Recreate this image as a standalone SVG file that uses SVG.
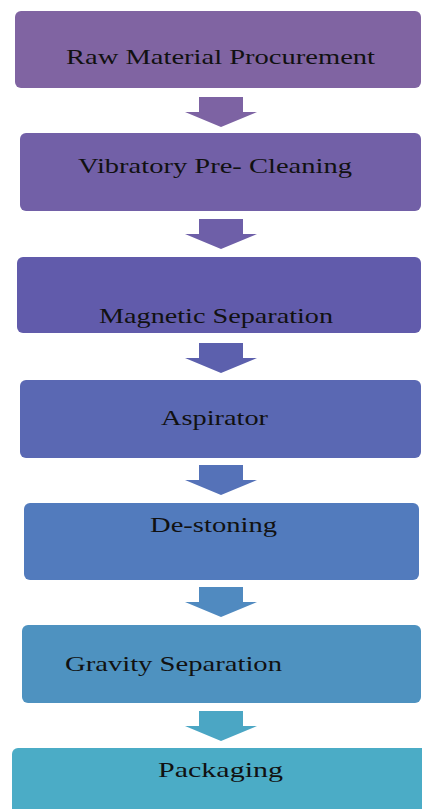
<svg xmlns="http://www.w3.org/2000/svg" width="422" height="809" viewBox="0 0 422 809">
<style>
.box{stroke:none}
.lbl{font-family:"Liberation Serif","Times New Roman",serif;font-size:22px;fill:#111}
</style>
<rect width="422" height="809" fill="#ffffff"/>
<g id="connectors">
<polygon points="199,97 243,97 243,112 257,112 221,127 185,112 199,112" fill="#7D63A3"/>
<polygon points="199,219 243,219 243,234 257,234 221,249 185,234 199,234" fill="#6E5FA8"/>
<polygon points="199,343 243,343 243,358 257,358 221,373 185,358 199,358" fill="#5C60AD"/>
<polygon points="199,465 243,465 243,480 257,480 221,495 185,480 199,480" fill="#5572B8"/>
<polygon points="199,587 243,587 243,602 257,602 221,617 185,602 199,602" fill="#508AC0"/>
<polygon points="199,711 243,711 243,726 257,726 221,741 185,726 199,726" fill="#4BA6C4"/>
</g>
<g id="node1">
<rect class="box" x="15" y="11" width="406" height="77" rx="6" fill="#8064A2"/>
<text class="lbl" x="66" y="64" textLength="309" lengthAdjust="spacingAndGlyphs">Raw Material Procurement</text>
</g>
<g id="node2">
<rect class="box" x="20" y="133" width="401" height="78" rx="6" fill="#7260A7"/>
<text class="lbl" x="78" y="173" textLength="274" lengthAdjust="spacingAndGlyphs">Vibratory Pre- Cleaning</text>
</g>
<g id="node3">
<rect class="box" x="17" y="257" width="404" height="76" rx="6" fill="#615BAB"/>
<text class="lbl" x="99" y="323" textLength="234" lengthAdjust="spacingAndGlyphs">Magnetic Separation</text>
</g>
<g id="node4">
<rect class="box" x="20" y="380" width="401" height="78" rx="6" fill="#5A68B3"/>
<text class="lbl" x="161" y="425" textLength="107" lengthAdjust="spacingAndGlyphs">Aspirator</text>
</g>
<g id="node5">
<rect class="box" x="24" y="503" width="395" height="77" rx="6" fill="#527BBD"/>
<text class="lbl" x="150" y="532" textLength="127" lengthAdjust="spacingAndGlyphs">De-stoning</text>
</g>
<g id="node6">
<rect class="box" x="22" y="625" width="399" height="78" rx="6" fill="#4E92C0"/>
<text class="lbl" x="65" y="671" textLength="217" lengthAdjust="spacingAndGlyphs">Gravity Separation</text>
</g>
<g id="node7">
<rect class="box" x="12" y="748" width="416" height="70" rx="6" fill="#4BACC6"/>
<text class="lbl" x="158" y="777" textLength="125" lengthAdjust="spacingAndGlyphs">Packaging</text>
</g>
</svg>
